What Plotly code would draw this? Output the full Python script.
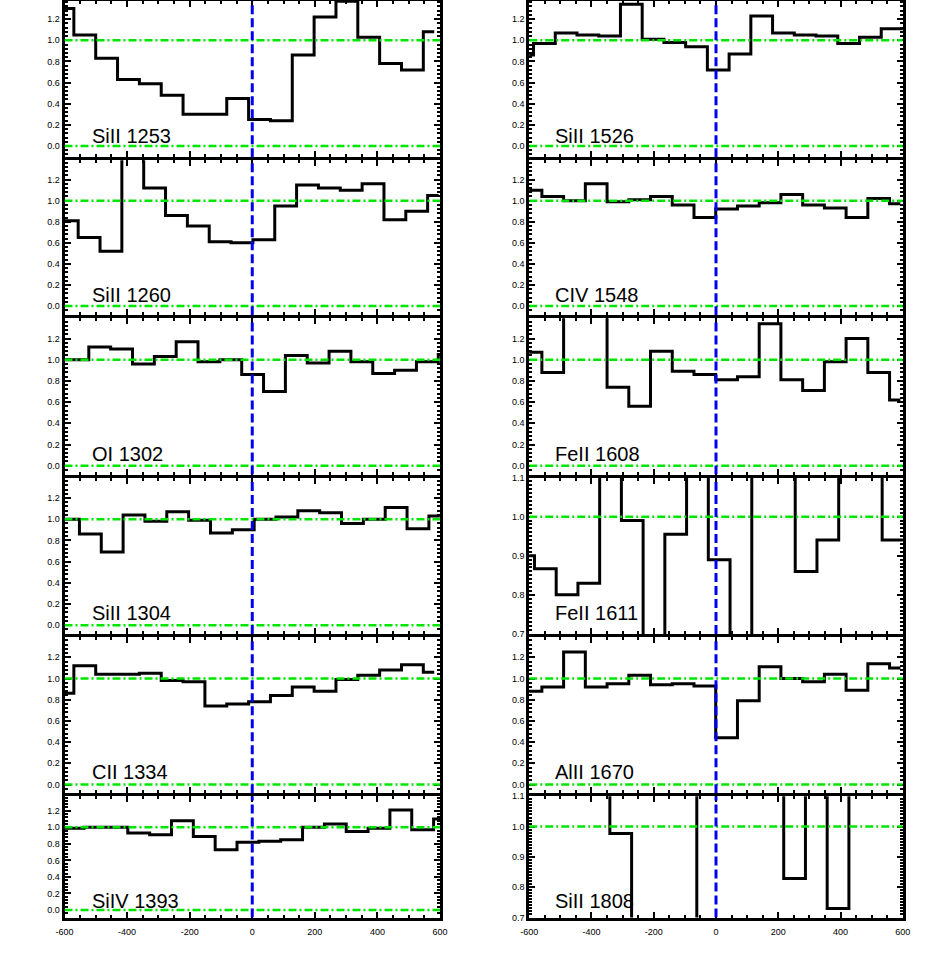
import plotly.graph_objects as go

W, H = 927, 955
BIN_WIDTH = 69.8  # km/s per spectral bin

# ---- data: first bin-centre velocity (km/s) and normalized flux per panel ----
lab_L = ["SiII 1253", "SiII 1260", "OI 1302", "SiII 1304", "CII 1334", "SiIV 1393"]
lab_R = ["SiII 1526", "CIV 1548", "FeII 1608", "FeII 1611", "AlII 1670", "SiII 1808"]

v0_L1 = -605
f_L1 = [1.30, 1.05, 0.83, 0.63, 0.59, 0.48, 0.30, 0.30, 0.45, 0.25, 0.24, 0.86, 1.22, 1.37, 1.03, 0.78, 0.72, 1.08]
v0_L2 = -661
f_L2 = [0.81, 0.81, 0.65, 0.52, 1.50, 1.12, 0.86, 0.76, 0.61, 0.60, 0.63, 0.95, 1.15, 1.12, 1.10, 1.16, 0.82, 0.90, 1.05]
v0_L3 = -627
f_L3 = [1.00, 1.00, 1.12, 1.10, 0.96, 1.03, 1.17, 0.98, 1.00, 0.86, 0.70, 1.04, 0.97, 1.08, 0.98, 0.87, 0.90, 0.98, 1.05]
v0_L4 = -657
f_L4 = [1.00, 1.00, 0.86, 0.69, 1.04, 0.98, 1.07, 0.99, 0.87, 0.90, 1.00, 1.02, 1.08, 1.06, 0.96, 1.00, 1.11, 0.91, 1.03]
v0_L5 = -605
f_L5 = [0.86, 1.12, 1.04, 1.04, 1.05, 0.98, 0.97, 0.74, 0.76, 0.78, 0.84, 0.92, 0.88, 0.99, 1.03, 1.08, 1.13, 1.06]
v0_L6 = -642
f_L6 = [0.99, 0.99, 1.00, 1.00, 0.93, 0.91, 1.08, 0.89, 0.73, 0.82, 0.83, 0.85, 1.00, 1.04, 0.95, 0.99, 1.21, 0.97, 1.10]

v0_R1 = -621
f_R1 = [0.86, 0.97, 1.07, 1.05, 1.04, 1.34, 1.01, 0.98, 0.94, 0.72, 0.87, 1.23, 1.07, 1.05, 1.04, 0.97, 1.03, 1.11, 1.11]
v0_R2 = -664
f_R2 = [1.10, 1.10, 1.04, 1.00, 1.16, 0.99, 1.01, 1.04, 0.96, 0.84, 0.92, 0.95, 0.98, 1.06, 0.96, 0.93, 0.84, 1.02, 0.97]
v0_R3 = -664
f_R3 = [1.07, 1.07, 0.88, 1.50, 1.50, 0.74, 0.56, 1.08, 0.89, 0.86, 0.81, 0.84, 1.34, 0.81, 0.71, 0.98, 1.20, 0.88, 0.62]
v0_R4 = -618
f_R4 = [0.90, 0.867, 0.80, 0.83, 1.20, 0.99, 0.60, 0.955, 1.20, 0.89, 0.60, 1.20, 1.20, 0.86, 0.94, 1.20, 1.20, 0.94, 0.94]
v0_R5 = -664
f_R5 = [0.88, 0.88, 0.92, 1.25, 0.92, 0.95, 1.03, 0.94, 0.95, 0.93, 0.44, 0.79, 1.11, 1.00, 0.97, 1.04, 0.89, 1.14, 1.10]
v0_R6 = -655
f_R6 = [1.30, 1.30, 1.30, 1.30, 1.30, 0.977, 0.60, 0.60, 0.60, 1.30, 1.30, 1.30, 1.30, 0.829, 1.30, 0.73, 1.30, 1.30, 1.30]

x_ticks = [-600, -400, -200, 0, 200, 400, 600]
y_ticks_wide = [0.0, 0.2, 0.4, 0.6, 0.8, 1.0, 1.2]
y_ticks_zoom = [0.7, 0.8, 0.9, 1.0, 1.1]

panels = [
    (lab_L[0], v0_L1, f_L1), (lab_L[1], v0_L2, f_L2), (lab_L[2], v0_L3, f_L3),
    (lab_L[3], v0_L4, f_L4), (lab_L[4], v0_L5, f_L5), (lab_L[5], v0_L6, f_L6),
    (lab_R[0], v0_R1, f_R1), (lab_R[1], v0_R2, f_R2), (lab_R[2], v0_R3, f_R3),
    (lab_R[3], v0_R4, f_R4), (lab_R[4], v0_R5, f_R5), (lab_R[5], v0_R6, f_R6),
]

# ---- layout geometry (pixels, frame-line centres) ----
LW = 3.0
col_lines = [(63.0, 441.5), (527.7, 904.3)]
row_lines = [-1.0, 158.7, 316.7, 476.0, 635.5, 794.8, 919.0]
zero_px = [146.0, 306.0, 465.7, 625.2, 784.5, 910.0]   # where flux 0.0 sits
one_px = [40.3, 200.7, 359.7, 519.2, 678.5, 827.3]     # where flux 1.0 sits
zoom_panels = {9, 11}  # FeII 1611, SiII 1808 (0-based index)
label_y_px = [136, 295, 454, 613, 772, 901]
label_x_px = [89.5, 553.3]

GREEN = "#00e600"
BLUE = "#0000ee"
FONT = "Liberation Sans, Arial, sans-serif"

fig = go.Figure()
layout = dict(width=W, height=H, margin=dict(l=0, r=0, t=0, b=0),
              paper_bgcolor="white", plot_bgcolor="white", showlegend=False)
shapes = []
annotations = []

for i, (name, v0, flux) in enumerate(panels):
    col = i // 6
    row = i % 6
    n = i + 1
    xa = "x" if n == 1 else f"x{n}"
    ya = "y" if n == 1 else f"y{n}"
    vel = [v0 + BIN_WIDTH * k for k in range(len(flux))]
    fig.add_trace(go.Scatter(x=vel, y=flux, mode="lines", xaxis=xa, yaxis=ya,
                             line=dict(shape="hvh", color="black", width=3),
                             hoverinfo="skip"))
    xl, xr = col_lines[col]
    x_in0, x_in1 = xl + LW / 2, xr - LW / 2
    y_in_top, y_in_bot = row_lines[row] + LW / 2, row_lines[row + 1] - LW / 2
    is_zoom = i in zoom_panels
    if is_zoom:
        yrange = [0.7, 1.1]
    else:
        z, o = zero_px[row], one_px[row]
        s = z - o
        yrange = [(z - y_in_bot) / s, (z - y_in_top) / s]
    bottom = row == 5
    layout["xaxis" if n == 1 else f"xaxis{n}"] = dict(
        domain=[x_in0 / W, x_in1 / W], anchor=ya, range=[-600, 600],
        showgrid=False, zeroline=False, showline=True, linecolor="black", linewidth=LW,
        mirror="allticks", ticks="inside", ticklen=6, tickwidth=2, tickcolor="black",
        tickvals=x_ticks, ticktext=[str(v) for v in x_ticks],
        showticklabels=bottom, tickfont=dict(family=FONT, size=9, color="black"),
        ticklabelstandoff=4,
        minor=dict(dtick=50, tick0=0, ticks="inside", ticklen=3, tickwidth=1.5,
                   tickcolor="black", showgrid=False),
        automargin=False, fixedrange=True)
    yt = y_ticks_zoom if is_zoom else y_ticks_wide
    layout["yaxis" if n == 1 else f"yaxis{n}"] = dict(
        domain=[max(0.0, 1 - y_in_bot / H), min(1.0, 1 - y_in_top / H)], anchor=xa, range=yrange,
        showgrid=False, zeroline=False, showline=True, linecolor="black", linewidth=LW,
        mirror="allticks", ticks="inside", ticklen=6, tickwidth=2, tickcolor="black",
        tickvals=yt, ticktext=[f"{v:.1f}" for v in yt],
        tickfont=dict(family=FONT, size=9, color="black"),
        minor=dict(dtick=0.01 if is_zoom else 0.04, tick0=0, ticks="inside", ticklen=3,
                   tickwidth=1.5, tickcolor="black", showgrid=False),
        automargin=False, fixedrange=True)
    for yv in (0.0, 1.0):
        shapes.append(dict(type="line", xref=xa, yref=ya, x0=-600, x1=600, y0=yv, y1=yv,
                           line=dict(color=GREEN, width=2.5, dash="8px,3px,2px,3px"),
                           layer="above"))
    shapes.append(dict(type="line", xref=xa, yref=ya, x0=0, x1=0, y0=yrange[0], y1=yrange[1],
                       line=dict(color=BLUE, width=3, dash="9px,4px"), layer="above"))
    annotations.append(dict(text=name, xref="paper", yref="paper",
                            x=label_x_px[col] / W, y=1 - label_y_px[row] / H,
                            xanchor="left", yanchor="middle", showarrow=False,
                            font=dict(family=FONT, size=20, color="black")))

layout["shapes"] = shapes
layout["annotations"] = annotations
fig.update_layout(**layout)
fig.write_html("out.html", config={"displayModeBar": False},
               post_script="document.body.style.margin='0px';")
